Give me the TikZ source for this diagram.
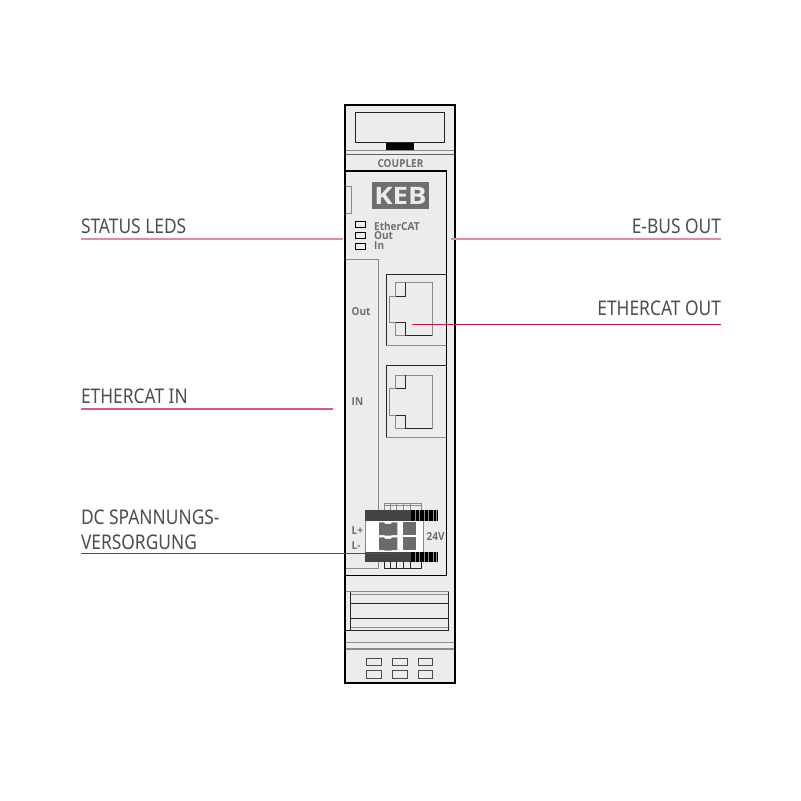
\documentclass[tikz,border=0pt]{standalone}
\usepackage{fontspec}
\setmainfont{Open Sans}
\newfontfamily\calloutfont[FakeStretch=0.86]{Noto Sans}
\newfontfamily\printfont[FakeStretch=0.91]{Open Sans}
\usetikzlibrary{positioning, calc}
\definecolor{DeepRose}{HTML}{C4105C}
\definecolor{TextGray}{HTML}{4D4D4D}
\definecolor{PrintGray}{HTML}{6F6F6F}
\definecolor{LineGray}{HTML}{8A8A8A}
\definecolor{BodyGray}{HTML}{EBECEC}
\definecolor{BarDark}{HTML}{444444}
\definecolor{PinGray}{HTML}{6B6B6B}

\begin{document}
\begin{tikzpicture}[
    x=1pt, y=-1pt,
    callout/.style={font=\calloutfont\fontsize{20.2}{25}\selectfont, text=TextGray, inner xsep=0pt,
                    inner ysep=5pt, outer sep=0pt, align=left},
    leader/.style={draw=DeepRose, line width=1pt},
    softleader/.style={draw=DeepRose!50, line width=2pt},
    printed/.style={font=\printfont\bfseries\fontsize{11}{11}\selectfont, text=PrintGray, inner sep=0pt},
    thinline/.style={LineGray, line width=1pt},
    darkline/.style={black!85, line width=1pt}
]
    \useasboundingbox (0,0) rectangle (801,801);
    \fill[white] (0,0) rectangle (801,801);

    % Housing
    \fill[BodyGray] (345,105) rectangle (455,683);
    \draw[thinline] (345,150) -- (455,150);
    \draw[darkline, LineGray!70!black] (345,154.7) -- (455,154.7);
    \draw[darkline, line width=0.8pt] (355.7,112) rectangle (444.7,142.7);
    \fill[black] (386,142.7) rectangle (414,150);
    \node[printed] (coupler) at (400.5,164) {COUPLER};

    % Front panel
    \draw[black, line width=1.5pt] (345,171) -- (446.5,171) -- (446.5,575.5) -- (345,575.5);
    \draw[thinline] (345,186.7) -- (351.7,186.7) -- (351.7,213) -- (345,213);
    \node[fill=PrintGray, minimum width=57.5pt, minimum height=26.7pt, inner sep=0pt,
          font=\bfseries\fontsize{24}{24}\selectfont\addfontfeature{FakeStretch=1.15}, text=BodyGray] (keb) at (400.5,195.7) {KEB};

    % Status LEDs
    \foreach \y in {221.7,232.3,243} {
        \draw[black, line width=0.8pt] (355,\y) rectangle (365,\y+6);
    }
    \node[printed, anchor=west] (ledethercat) at (374,226) {EtherCAT};
    \node[printed, anchor=west] (ledout) at (374,235.7) {Out};
    \node[printed, anchor=west] (ledin) at (374,246) {In};

    % Left cover
    \draw[thinline] (345,259) -- (378.3,259) -- (378.3,568.5) -- (345,568.5);
    \node[printed, anchor=west] (portout) at (351.5,312) {Out};
    \node[printed, anchor=west] (portin) at (351.5,402) {IN};

    % RJ45 ports
    \draw[darkline] (446,274) -- (386.3,274) -- (386.3,345.3);
    \draw[thinline] (386.3,345.3) -- (446,345.3);
    \draw[darkline] (446,365.3) -- (386.3,365.3) -- (386.3,437.3);
    \draw[thinline] (386.3,437.3) -- (446,437.3);
    \foreach \y in {0,92.3} {
        \draw[thinline] (395.7,282.7+\y) -- (432,282.7+\y) -- (432,335.7+\y) -- (395.7,335.7+\y)
            -- (395.7,322.7+\y) -- (389.7,322.7+\y) -- (389.7,296+\y) -- (395.7,296+\y) -- cycle;
        \draw[darkline] (405.7,282.7+\y) -- (405.7,296+\y) -- (395.7,296+\y);
        \draw[darkline] (395.7,322.7+\y) -- (405.7,322.7+\y) -- (405.7,335.7+\y) -- (432,335.7+\y);
    }

    % Power connector
    \draw[thinline] (384.3,510) -- (384.3,503.5) -- (421.7,503.5) -- (421.7,510);
    \draw[thinline] (384.3,505.5) -- (421.7,505.5);
    \draw[darkline] (384.3,561.7) -- (384.3,568.3) -- (421.7,568.3) -- (421.7,561.7);
    \foreach \x in {390,396.7,403.3,410} {
        \draw[thinline] (\x,503.5) -- (\x,510);
        \draw[darkline] (\x,561.7) -- (\x,568.3);
    }
    \draw[LineGray, fill=white, line width=0.6pt] (365.7,520) rectangle (423,552);
    \foreach \y in {510,551.7} {
        \fill[BarDark] (365,\y) rectangle (411,\y+10.5);
        \fill[black] (411,\y) rectangle (437.7,\y+10.5);
        \foreach \x in {414.5,419,423.5,428,432.5,436} {
            \fill[LineGray] (\x,\y) rectangle (\x+1.2,\y+10.5);
        }
    }
    \foreach \y in {522.3,537.3} {
        \fill[PinGray] (379,\y) -- (384,\y) -- (385,\y+1.5) -- (391,\y+1.5) -- (392,\y)
            -- (397.3,\y) -- (397.3,\y+12.7) -- (392,\y+12.7) -- (391,\y+13.2) -- (385,\y+13.2)
            -- (384,\y+12.7) -- (379,\y+12.7) -- cycle;
        \fill[PinGray] (403.3,\y) rectangle (416.3,\y+12.7);
    }
    \node[printed, anchor=west] (lplus) at (351.5,530.7) {L+};
    \node[printed, anchor=west] (lminus) at (351.5,546) {L-};
    \node[printed, anchor=west] (volt) at (426.5,536.7) {24V};

    % Rail latch
    \draw[thinline] (345,591.7) -- (448.7,591.7);
    \draw[thinline] (350.7,594.3) -- (448.7,594.3);
    \draw[thinline] (350.7,627.7) -- (448.7,627.7);
    \draw[darkline] (448.7,591.7) -- (448.7,630.7) -- (345,630.7);
    \draw[darkline] (350.7,591.7) -- (350.7,630.7);
    \draw[darkline] (350.7,603.3) -- (448.7,603.3);
    \draw[darkline] (350.7,618.3) -- (448.7,618.3);

    % Bottom vents
    \draw[LineGray, line width=1.5pt] (345,642.7) -- (455,642.7);
    \draw[LineGray, line width=1.5pt] (345,649) -- (455,649);
    \foreach \x in {366.5,392.5,418} {
        \draw[black!70, line width=1pt] (\x,658) rectangle (\x+14.7,665.3);
        \draw[black!70, line width=1pt] (\x,670.5) rectangle (\x+14.7,678.3);
    }

    % Housing outline
    \draw[black, line width=1.7pt] (345,105) rectangle (455,683);

    % Callouts
    \node[callout, anchor=south west] (statusleds) at (81,239) {STATUS LEDS};
    \node[callout, anchor=south east] (ebusout) at (721,239) {E-BUS OUT};
    \node[callout, anchor=south east, inner ysep=9pt] (ethercatout) at (721,324.5) {ETHERCAT OUT};
    \node[callout, anchor=south west] (ethercatin) at (81,409) {ETHERCAT IN};
    \node[callout, anchor=south west, inner ysep=3.5pt] (dcsupply) at (81,553.5) {DC SPANNUNGS-\\VERSORGUNG};

    \coordinate (ledsend) at (343,239);
    \coordinate (ebusend) at (451,239);
    \coordinate (outend) at (412,324.5);
    \coordinate (inend) at (333,409);
    \coordinate (dcend) at (398,553.5);

    \draw[softleader] (statusleds.south west) -- (ledsend);
    \draw[softleader] (ebusout.south east) -- (ebusend);
    \draw[leader] (ethercatout.south east) -- (outend);
    \draw[softleader, draw=DeepRose!70] (ethercatin.south west) -- (inend);
    \draw[leader] (dcsupply.south west) -- (dcend);
\end{tikzpicture}
\end{document}
